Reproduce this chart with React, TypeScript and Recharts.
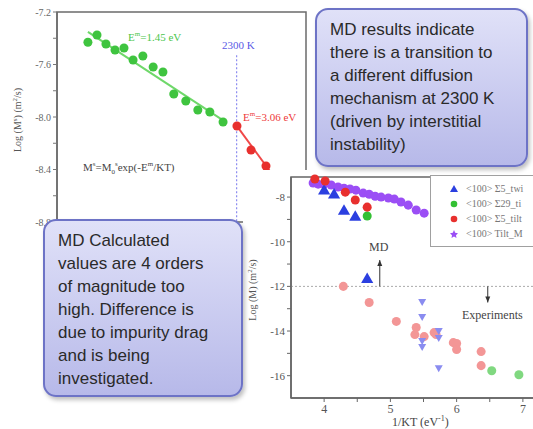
import React from 'react';
import {
  ComposedChart, Scatter, XAxis, YAxis, ZAxis, ReferenceLine, ReferenceArea, ReferenceDot, Legend,
} from 'recharts';

// left panel: Log(M^s) vs 1/KT (its x axis sits under the callout)
const leftGreenX = [4.18, 4.233, 4.285, 4.338, 4.39, 4.443, 4.5, 4.56, 4.617, 4.68, 4.75, 4.82, 4.89, 4.967];
const leftGreenY = [-7.43, -7.375, -7.444, -7.49, -7.474, -7.566, -7.535, -7.619, -7.657, -7.825, -7.878, -7.947, -7.962, -8.038];
const leftRedX = [5.048, 5.13, 5.217];
const leftRedY = [-8.069, -8.251, -8.373];
const greenFitX = [4.18, 4.972];
const greenFitY = [-7.352, -8.03];
const redFitX = [5.048, 5.3];
const redFitY = [-8.069, -8.52];
const transitionX = 5.046; // 2300 K
const leftYTicks = [-8.8, -8.6, -8.4, -8.2, -8.0, -7.8, -7.6, -7.4, -7.2];
const leftYLabels = [-8.8, -8.4, -8.0, -7.6, -7.2];

// right panel: MD (solid) vs experiments (faded)
// legend names are cut off by the slide edge in the original
const seriesNames = ['<100> Σ5_twi', '<100> Σ29_ti', '<100> Σ5_tilt', '<100> Tilt_M'];
const mdTwistX = [4.0, 4.15, 4.3, 4.47, 4.65];
const mdTwistY = [-7.73, -7.91, -8.63, -8.9, -11.69];
const md29X = [4.65];
const md29Y = [-8.85];
const md5TiltX = [3.86, 4.015, 4.32, 4.47, 4.65];
const md5TiltY = [-7.19, -7.28, -7.78, -8.13, -8.45];
const mdMixedX = [3.834, 3.91, 4.0, 4.106, 4.21, 4.3, 4.39, 4.48, 4.59, 4.68, 4.77, 4.86, 4.97, 5.06, 5.16, 5.27, 5.39, 5.51];
const mdMixedY = [-7.37, -7.42, -7.42, -7.46, -7.55, -7.6, -7.64, -7.69, -7.82, -7.87, -7.96, -8.0, -8.04, -8.09, -8.22, -8.36, -8.58, -8.72];
const expRedX = [4.29, 4.68, 5.09, 5.39, 5.37, 5.51, 5.66, 5.69, 5.95, 6.0, 6.0, 6.37, 6.37];
const expRedY = [-12.0, -12.72, -13.57, -13.84, -14.16, -14.25, -14.07, -14.16, -14.52, -14.56, -14.83, -14.92, -15.55];
const expBlueX = [5.48, 5.48, 5.73, 5.73, 5.48, 5.48, 5.73];
const expBlueY = [-12.72, -13.39, -14.02, -14.34, -14.47, -14.74, -15.69];
const expGreenX = [6.53, 6.94];
const expGreenY = [-15.78, -15.96];
const rightXTicks = [4, 4.5, 5, 5.5, 6, 6.5, 7];
const rightYTicks = [-16, -15, -14, -13, -12, -11, -10, -9, -8];
const mdArrowX = 4.84;
const expArrowX = 6.47;

const zip = (xs: number[], ys: number[]) => xs.map((x, i) => ({ x, y: ys[i] }));

const serif = '"Liberation Serif", "DejaVu Serif", serif';
const sans = '"Liberation Sans", Arial, sans-serif';

const noDot = () => <g />;

const downTriangle = (fill: string) => (p: any) => (
  <path d={`M${p.cx - 4},${p.cy - 3.5}L${p.cx + 4},${p.cy - 3.5}L${p.cx},${p.cy + 3.5}Z`} fill={fill} />
);

const arrowHead = (up: boolean) => (p: any) => {
  const { cx, cy } = p;
  const d = up
    ? `M${cx},${cy}L${cx - 2.5},${cy + 6}L${cx + 2.5},${cy + 6}Z`
    : `M${cx},${cy}L${cx - 2.5},${cy - 6}L${cx + 2.5},${cy - 6}Z`;
  return <path d={d} fill="#333" />;
};

const LegendIcon = ({ type, color }: { type: string; color: string }) => {
  if (type === 'triangle') return <path d="M5,1L9,8L1,8Z" fill={color} />;
  if (type === 'star') return <path d="M5,1L6.2,3.8L9,4.2L7,6.2L7.5,9L5,7.6L2.5,9L3,6.2L1,4.2L3.8,3.8Z" fill={color} />;
  return <circle cx={5} cy={5} r={3.3} fill={color} />;
};

const LegendBox = ({ payload }: any) => {
  const items = (payload || [])
    .filter((p: any) => p.type !== 'none' && seriesNames.includes(p.value))
    .sort((a: any, b: any) => seriesNames.indexOf(a.value) - seriesNames.indexOf(b.value));
  return (
    <div style={{ border: '1px solid #a0a0a0', background: '#fff', padding: '5px 0 5px 18px', width: 150, fontFamily: serif, fontSize: 10, color: '#777' }}>
      {items.map((p: any) => (
        <div key={p.value} style={{ display: 'flex', alignItems: 'center', height: 15, whiteSpace: 'nowrap' }}>
          <svg width={10} height={10} style={{ marginRight: 7 }}>
            <LegendIcon type={p.type} color={p.color} />
          </svg>
          <span>{p.value}</span>
        </div>
      ))}
    </div>
  );
};

const calloutStyle: React.CSSProperties = {
  position: 'absolute',
  boxSizing: 'border-box',
  borderRadius: 13,
  border: '2px solid #6d73c6',
  background: 'linear-gradient(#e0e1f8, #b7b9e9)',
  boxShadow: '2px 3px 4px rgba(0,0,0,0.25)',
  fontFamily: sans,
  fontSize: 17,
  lineHeight: '23px',
  color: '#2a2a2a',
  padding: '8px 0 0 13px',
};

const note = (left: number, top: number, color: string, size = 11): React.CSSProperties => ({
  position: 'absolute', left, top, color, fontFamily: serif, fontSize: size, lineHeight: 1, whiteSpace: 'nowrap',
});

export default function App() {
  return (
    <div style={{ position: 'absolute', left: 0, top: 0, width: 533, height: 429, overflow: 'hidden', background: '#fff' }}>
      {/* left panel */}
      <div style={{ position: 'absolute', left: 0, top: 0 }}>
        <ComposedChart width={320} height={232} margin={{ top: 12, right: 14, bottom: 10, left: 0 }}>
          <XAxis type="number" dataKey="x" domain={[4.0, 5.45]} hide />
          <YAxis
            type="number" dataKey="y" domain={[-8.8, -7.2]} ticks={leftYTicks} width={57}
            tickFormatter={(v) => (leftYLabels.some((l) => Math.abs(l - v) < 1e-6) ? v.toFixed(1) : '')}
            tick={{ fill: '#666', fontSize: 10, fontFamily: serif }}
            axisLine={{ stroke: '#6b6b6b', strokeWidth: 1.5 }} tickLine={{ stroke: '#777' }} tickSize={4}
          />
          <ZAxis range={[26, 26]} />
          <ReferenceArea x1={4.0} x2={5.45} y1={-8.8} y2={-7.2} fill="none" stroke="#6b6b6b" strokeWidth={1.5} />
          <ReferenceLine
            segment={[{ x: transitionX, y: -7.53 }, { x: transitionX, y: -8.8 }]}
            stroke="#8c8cf0" strokeDasharray="2 2" strokeWidth={1.2}
          />
          <Scatter data={zip(greenFitX, greenFitY)} line={{ stroke: '#6fd86a', strokeWidth: 2 }} shape={noDot} legendType="none" isAnimationActive={false} />
          <Scatter data={zip(redFitX, redFitY)} line={{ stroke: '#f04848', strokeWidth: 2 }} shape={noDot} legendType="none" isAnimationActive={false} />
          <Scatter data={zip(leftGreenX, leftGreenY)} fill="#3fc43f" isAnimationActive={false} />
          <Scatter data={zip(leftRedX, leftRedY)} fill="#e8302e" isAnimationActive={false} />
        </ComposedChart>
      </div>
      <div style={{ position: 'absolute', left: 17, top: 120, transform: 'translate(-50%, -50%) rotate(-90deg)', fontFamily: serif, fontSize: 10, color: '#555', whiteSpace: 'nowrap' }}>
        Log (M<sup style={{ fontSize: 7 }}>s</sup>) (m<sup style={{ fontSize: 7 }}>2</sup>/s)
      </div>
      <div style={note(128, 31, '#4cc64c')}>E<sup style={{ fontSize: 7 }}>m</sup>=1.45 eV</div>
      <div style={note(222, 40, '#5a5ae6')}>2300 K</div>
      <div style={note(243, 111, '#ee3a3a')}>E<sup style={{ fontSize: 7 }}>m</sup>=3.06 eV</div>
      <div style={note(83, 161, '#444')}>
        M<sup style={{ fontSize: 7 }}>s</sup>=M<sub style={{ fontSize: 7 }}>0</sub><sup style={{ fontSize: 7 }}>s</sup>exp(-E<sup style={{ fontSize: 7 }}>m</sup>/KT)
      </div>

      {/* right panel */}
      <div style={{ position: 'absolute', left: 243, top: 170, background: '#fff' }}>
        <ComposedChart width={313} height={259} margin={{ top: 7, right: 0, bottom: 0, left: 0 }}>
          <XAxis
            type="number" dataKey="x" domain={[3.5, 7.5]} ticks={rightXTicks} height={31}
            tickFormatter={(v) => (Number.isInteger(v) ? String(v) : '')}
            tick={{ fill: '#555', fontSize: 12, fontFamily: serif }}
            axisLine={{ stroke: '#666', strokeWidth: 1.5 }} tickLine={{ stroke: '#666' }} tickSize={4}
          />
          <YAxis
            type="number" dataKey="y" domain={[-17, -7.1]} ticks={rightYTicks} width={48}
            tickFormatter={(v) => (v % 2 === 0 ? String(v) : '')}
            tick={{ fill: '#555', fontSize: 11, fontFamily: serif }}
            axisLine={{ stroke: '#666', strokeWidth: 1.5 }} tickLine={{ stroke: '#666' }} tickSize={4}
          />
          <ZAxis range={[28, 28]} />
          <ZAxis zAxisId="small" range={[18, 18]} />
          <ReferenceArea x1={3.5} x2={7.5} y1={-17} y2={-7.1} fill="none" stroke="#666" strokeWidth={1.5} />
          <ReferenceLine y={-12} stroke="#aaa" strokeDasharray="2 2" />
          <ReferenceLine segment={[{ x: mdArrowX, y: -12 }, { x: mdArrowX, y: -10.82 }]} stroke="#333" />
          <ReferenceDot x={mdArrowX} y={-10.82} shape={arrowHead(true)} />
          <ReferenceLine segment={[{ x: expArrowX, y: -12 }, { x: expArrowX, y: -12.72 }]} stroke="#333" />
          <ReferenceDot x={expArrowX} y={-12.72} shape={arrowHead(false)} />
          <Scatter data={zip(expRedX, expRedY)} fill="#f39696" legendType="none" isAnimationActive={false} />
          <Scatter data={zip(expBlueX, expBlueY)} shape={downTriangle('#8a8cf0')} legendType="none" isAnimationActive={false} />
          <Scatter data={zip(expGreenX, expGreenY)} fill="#80d880" legendType="none" isAnimationActive={false} />
          <Scatter name={seriesNames[3]} data={zip(mdMixedX, mdMixedY)} fill="#9b4ef5" zAxisId="small" legendType="star" isAnimationActive={false} />
          <Scatter name={seriesNames[0]} data={zip(mdTwistX, mdTwistY)} fill="#2b3fe0" shape="triangle" legendType="triangle" isAnimationActive={false} />
          <Scatter name={seriesNames[1]} data={zip(md29X, md29Y)} fill="#33c033" legendType="circle" isAnimationActive={false} />
          <Scatter name={seriesNames[2]} data={zip(md5TiltX, md5TiltY)} fill="#e8302e" legendType="circle" isAnimationActive={false} />
          <Legend
            layout="vertical" align="center" verticalAlign="middle" content={<LegendBox />}
            wrapperStyle={{ left: 187, top: 5, width: 'auto', height: 'auto' }}
          />
        </ComposedChart>
      </div>
      <div style={{ position: 'absolute', left: 252, top: 290, transform: 'translate(-50%, -50%) rotate(-90deg)', fontFamily: serif, fontSize: 10, color: '#555', whiteSpace: 'nowrap' }}>
        Log (M) (m<sup style={{ fontSize: 7 }}>2</sup>/s)
      </div>
      <div style={note(369, 241, '#444', 12)}>MD</div>
      <div style={note(462, 309, '#444', 12)}>Experiments</div>
      <div style={note(392, 415, '#444', 12)}>1/KT (eV<sup style={{ fontSize: 8 }}>-1</sup>)</div>

      {/* callouts */}
      <div style={{ ...calloutStyle, left: 315, top: 8, width: 213, height: 159 }}>
        MD results indicate<br />there is a transition to<br />a different diffusion<br />mechanism at 2300 K<br />(driven by interstitial<br />instability)
      </div>
      <div style={{ ...calloutStyle, left: 43, top: 219, width: 200, height: 178 }}>
        MD Calculated<br />values are 4 orders<br />of magnitude too<br />high. Difference is<br />due to impurity drag<br />and is being<br />investigated.
      </div>
    </div>
  );
}
